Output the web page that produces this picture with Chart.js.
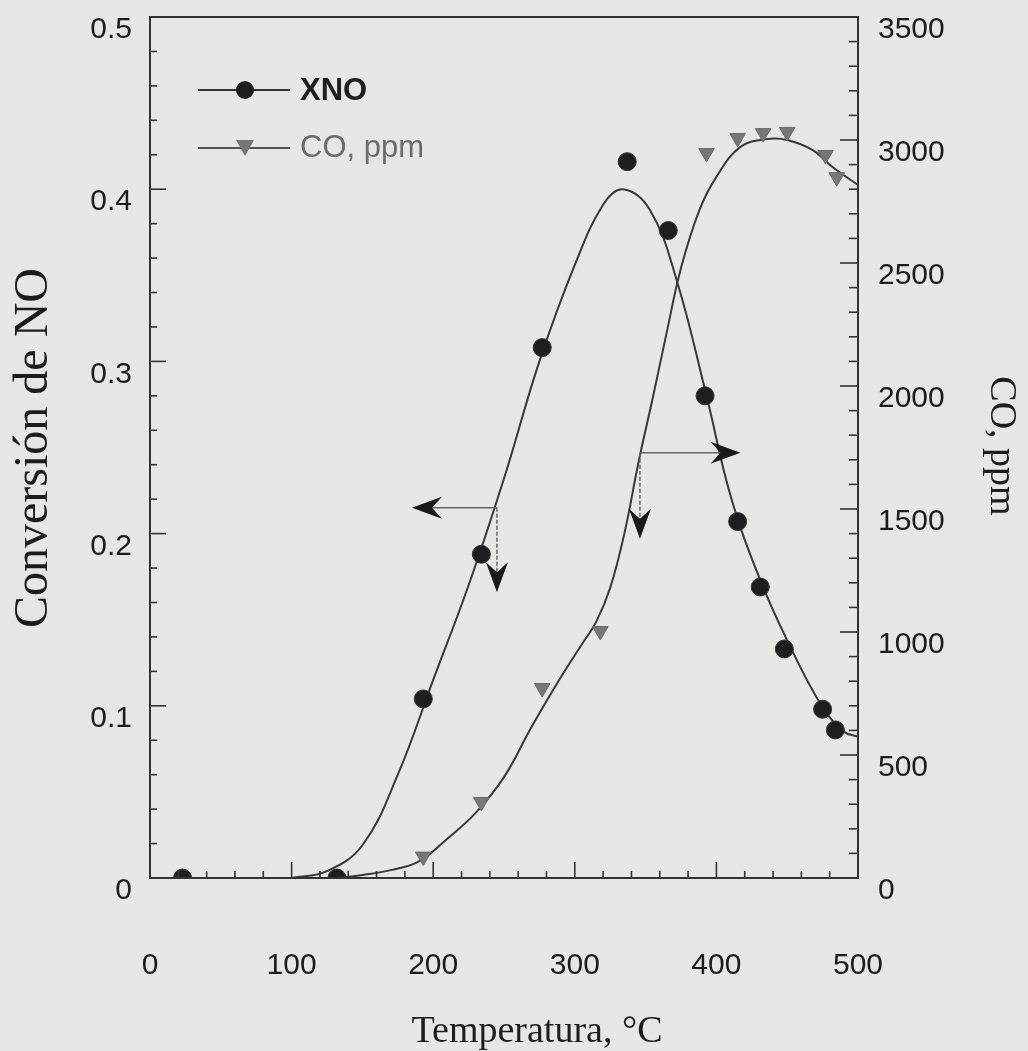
<!DOCTYPE html>
<html>
<head>
<meta charset="utf-8">
<script src="https://cdn.jsdelivr.net/npm/chart.js@4.4.1/dist/chart.umd.min.js"></script>
<style>
  html, body { margin:0; padding:0; background:#e6e6e4; }
  #wrap { width:1028px; height:1051px; position:relative; }
</style>
</head>
<body>
<div id="wrap"><canvas id="chartNO"></canvas></div>
<script>
// measured points
const xnoTemp = [23, 132, 193, 234, 277, 337, 366, 392, 415, 431, 448, 475, 484];
const xnoConv = [0, 0, 0.104, 0.188, 0.308, 0.416, 0.376, 0.280, 0.207, 0.169, 0.133, 0.098, 0.086];
const coTemp  = [23, 132, 193, 234, 277, 318, 393, 415, 433, 450, 477, 485];
const coPpm   = [0, 0, 87, 309, 772, 1004, 2947, 3008, 3028, 3033, 2939, 2849];

// fitted curves
const xnoFitT = [100, 125, 150, 175, 200, 225, 250, 275, 300, 320, 334, 353, 372, 393, 410, 430, 450, 475, 490, 500];
const xnoFitY = [0, 0.004, 0.019, 0.060, 0.115, 0.170, 0.232, 0.300, 0.356, 0.391, 0.400, 0.388, 0.347, 0.280, 0.222, 0.175, 0.138, 0.099, 0.085, 0.082];
const coFitT  = [133, 150, 170, 190, 210, 230, 250, 270, 290, 305, 315, 325, 335, 345, 355, 365, 375, 388, 400, 417, 436, 450, 468, 482, 500];
const coFitY  = [0, 12, 32, 68, 160, 265, 410, 620, 815, 950, 1040, 1180, 1400, 1690, 1950, 2220, 2480, 2715, 2850, 2972, 3004, 3000, 2959, 2890, 2817];

// axis-reading arrows: base on a curve, one head sideways, one head down (left-axis units)
const arrowBaseT = [245, 346];
const arrowBaseY = [0.215, 0.247];
const arrowSideT = [185, 417];
const arrowDownY = [0.166, 0.197];

const ink = "#1c1c1c";
const grayInk = "#6c6c6c";

function pts(xs, ys){ return xs.map((x,i)=>({x:x, y:ys[i]})); }

function arrowHead(ctx, tx, ty, ang){
  const L=30, W=11, N=10;
  ctx.save();
  ctx.translate(tx, ty); ctx.rotate(ang);
  ctx.beginPath();
  ctx.moveTo(0,0); ctx.lineTo(-L,-W); ctx.lineTo(-L+N,0); ctx.lineTo(-L,W);
  ctx.closePath(); ctx.fill();
  ctx.restore();
}

function innerTicks(ctx, scale, n, step, major, minLen, majLen, edge, dir){
  for(let i=0;i<=n;i++){
    const p = scale.getPixelForValue(i*step);
    const len = (i % major === 0) ? majLen : minLen;
    ctx.beginPath();
    if(scale.isHorizontal()){ ctx.moveTo(p, edge); ctx.lineTo(p, edge + dir*len); }
    else { ctx.moveTo(edge, p); ctx.lineTo(edge + dir*len, p); }
    ctx.stroke();
  }
}

function fixWidth(w){
  return (s)=>{ s.width = w; s.paddingTop = 0; s.paddingBottom = 0; };
}

const paperPlugin = {
  id: "paper",
  afterDatasetsDraw(chart){
    const {ctx, scales:{x, y}} = chart;
    ctx.save();
    ctx.fillStyle = "#1a1a1a";
    ctx.strokeStyle = "#666";
    ctx.lineWidth = 1.5;
    arrowBaseT.forEach((t,i)=>{
      const bx = x.getPixelForValue(t), by = y.getPixelForValue(arrowBaseY[i]);
      const sx = x.getPixelForValue(arrowSideT[i]);
      const dy = y.getPixelForValue(arrowDownY[i]);
      const dirX = sx < bx ? -1 : 1;
      ctx.beginPath(); ctx.moveTo(bx, by); ctx.lineTo(sx - dirX*20, by); ctx.stroke();
      ctx.setLineDash([4,2]);
      ctx.beginPath(); ctx.moveTo(bx, by); ctx.lineTo(bx, dy - 20); ctx.stroke();
      ctx.setLineDash([]);
      arrowHead(ctx, sx, by, dirX < 0 ? Math.PI : 0);
      arrowHead(ctx, bx, dy, Math.PI/2);
    });
    ctx.restore();
  },
  afterDraw(chart){
    const {ctx, chartArea:a, scales:{x, y, y2}} = chart;
    ctx.save();
    // frame
    ctx.strokeStyle = "#333";
    ctx.lineWidth = 2;
    ctx.strokeRect(a.left, a.top, a.right - a.left, a.bottom - a.top);
    // inward tick marks
    ctx.lineWidth = 1.6;
    innerTicks(ctx, x, 25, 20, 5, 7, 16, a.bottom, -1);
    innerTicks(ctx, y, 25, 0.02, 5, 7, 16, a.left, 1);
    innerTicks(ctx, y2, 35, 100, 5, 9, 18, a.right, -1);

    // axis titles
    ctx.fillStyle = ink;
    ctx.font = '38px "Liberation Serif"';
    ctx.textAlign = "center";
    ctx.textBaseline = "alphabetic";
    ctx.fillText("Temperatura, °C", 537, 1042);

    ctx.save();
    ctx.translate(47, 448); ctx.rotate(-Math.PI/2);
    ctx.font = '48px "Liberation Serif"';
    ctx.fillText("Conversión de NO", 0, 0);
    ctx.restore();

    ctx.save();
    ctx.translate(991, 446); ctx.rotate(Math.PI/2);
    ctx.font = '38px "Liberation Serif"';
    ctx.fillText("CO, ppm", 0, 0);
    ctx.restore();

    // legend
    ctx.textAlign = "left";
    ctx.textBaseline = "middle";
    ctx.lineWidth = 2;
    ctx.strokeStyle = "#333";
    ctx.beginPath(); ctx.moveTo(198, 90); ctx.lineTo(290, 90); ctx.stroke();
    ctx.fillStyle = "#1e1e1e";
    ctx.beginPath(); ctx.arc(245, 90, 9, 0, Math.PI*2); ctx.fill();
    ctx.font = 'bold 31px "Liberation Sans"';
    ctx.fillText("XNO", 300, 91);

    ctx.strokeStyle = "#555";
    ctx.beginPath(); ctx.moveTo(198, 148); ctx.lineTo(290, 148); ctx.stroke();
    ctx.fillStyle = "#777";
    ctx.beginPath(); ctx.moveTo(236, 140); ctx.lineTo(254, 140); ctx.lineTo(245, 156); ctx.closePath(); ctx.fill();
    ctx.fillStyle = grayInk;
    ctx.font = '31px "Liberation Sans"';
    ctx.fillText("CO, ppm", 300, 148);
    ctx.restore();
  }
};

const tickFont = { family: "Liberation Sans", size: 30, lineHeight: 1 };

new Chart(document.getElementById("chartNO"), {
  type: "scatter",
  data: {
    datasets: [
      { label: "XNO", data: pts(xnoTemp, xnoConv), yAxisID: "y", order: 1,
        pointStyle: "circle", pointRadius: 9, backgroundColor: "#1e1e1e", borderColor: "#333", borderWidth: 1 },
      { label: "CO, ppm", data: pts(coTemp, coPpm), yAxisID: "y2", order: 2,
        pointStyle: "triangle", rotation: 180, pointRadius: 9, backgroundColor: "#777", borderColor: "#6a6a6a", borderWidth: 1 },
      { label: "XNO fit", data: pts(xnoFitT, xnoFitY), yAxisID: "y", order: 3, showLine: true,
        tension: 0.4, pointRadius: 0, borderColor: "#383838", borderWidth: 2 },
      { label: "CO fit", data: pts(coFitT, coFitY), yAxisID: "y2", order: 4, showLine: true,
        tension: 0.4, pointRadius: 0, borderColor: "#383838", borderWidth: 2 },
    ]
  },
  options: {
    responsive: true, maintainAspectRatio: false, animation: false,
    layout: { padding: { top: 17, left: 0, right: 0, bottom: 0 } },
    plugins: { legend: { display: false }, tooltip: { enabled: false } },
    scales: {
      x: { type: "linear", min: 0, max: 500,
        afterFit: (s)=>{ s.height = 173; s.paddingLeft = 0; s.paddingRight = 0; },
        grid: { display: false }, border: { display: false },
        ticks: { stepSize: 100, padding: 62, color: ink, font: { family: "Liberation Sans", size: 30 }, maxRotation: 0,
          callback: (v)=>String(v) } },
      y: { position: "left", min: 0, max: 0.5,
        afterFit: fixWidth(150),
        grid: { display: false }, border: { display: false },
        ticks: { stepSize: 0.1, padding: 10, labelOffset: 13, color: ink, font: tickFont,
          callback: (v)=> v === 0 ? "0" : Number(v).toFixed(1) } },
      y2: { position: "right", min: 0, max: 3500,
        afterFit: fixWidth(170),
        grid: { display: false }, border: { display: false },
        ticks: { stepSize: 500, padding: 12, labelOffset: 13, color: ink, font: tickFont,
          callback: (v)=>String(v) } }
    }
  },
  plugins: [paperPlugin]
});
</script>
</body>
</html>
